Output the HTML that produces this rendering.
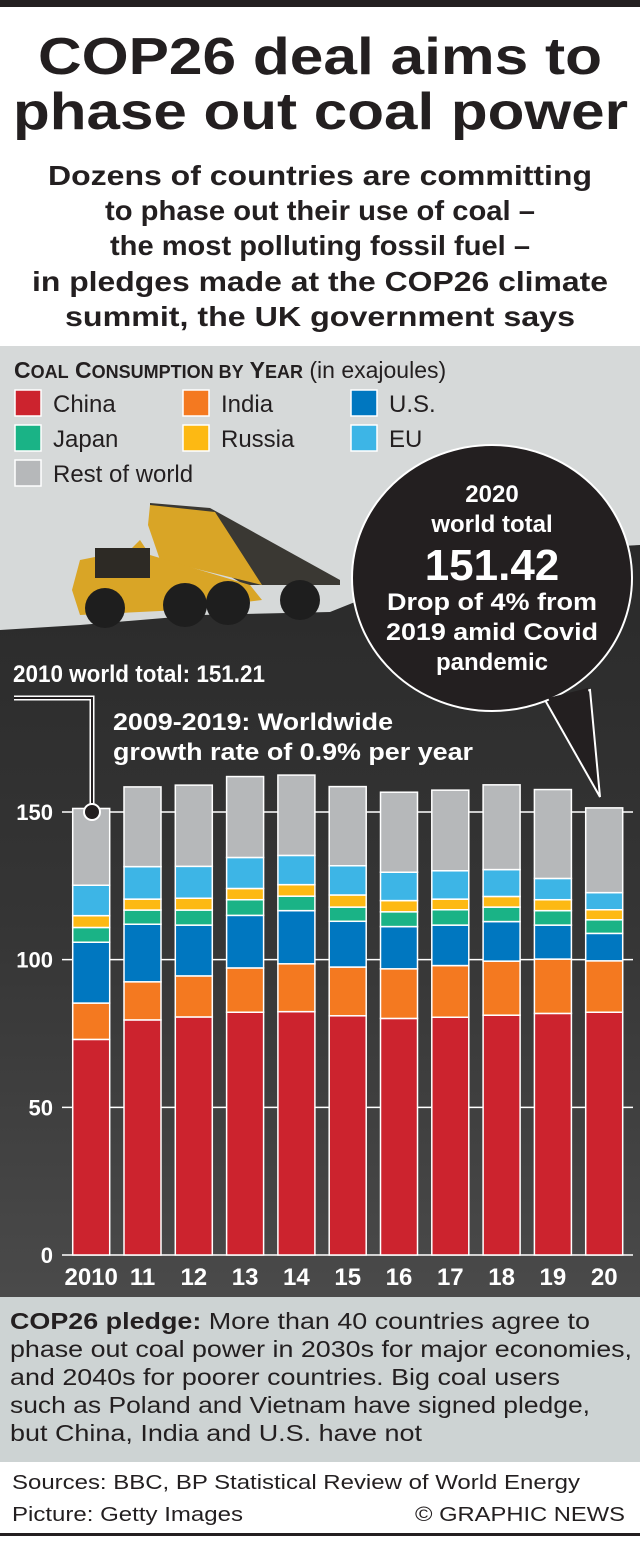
<!DOCTYPE html>
<html><head><meta charset="utf-8"><style>
html,body{margin:0;padding:0;background:#fff;}
svg{display:block;font-family:"Liberation Sans",Arial,sans-serif;}
</style></head><body>
<svg id="chart" width="640" height="1542" viewBox="0 0 640 1542" xmlns="http://www.w3.org/2000/svg">
<defs>
<linearGradient id="coal" x1="0" y1="0" x2="0" y2="1">
<stop offset="0" stop-color="#2a2a2a"/><stop offset="0.5" stop-color="#353535"/><stop offset="1" stop-color="#4a4a4a"/>
</linearGradient>
</defs>
<rect x="0" y="0" width="640" height="7" fill="#231f20"/>
<g font-weight="bold" fill="#231f20">
<text x="38" y="74" font-size="52" textLength="564" lengthAdjust="spacingAndGlyphs">COP26 deal aims to</text>
<text x="13" y="129" font-size="52" textLength="615" lengthAdjust="spacingAndGlyphs">phase out coal power</text>
</g>
<g font-weight="bold" fill="#231f20" font-size="28">
<text x="48" y="185" textLength="544" lengthAdjust="spacingAndGlyphs">Dozens of countries are committing</text>
<text x="105" y="220" textLength="430" lengthAdjust="spacingAndGlyphs">to phase out their use of coal –</text>
<text x="110" y="255" textLength="420" lengthAdjust="spacingAndGlyphs">the most polluting fossil fuel –</text>
<text x="32" y="291" textLength="576" lengthAdjust="spacingAndGlyphs">in pledges made at the COP26 climate</text>
<text x="65" y="326" textLength="510" lengthAdjust="spacingAndGlyphs">summit, the UK government says</text>
</g>
<g>
<rect x="0" y="346" width="640" height="951" fill="#d6d9d9"/>
<polygon points="0,630 80,625 200,615 330,612 360,600 420,580 520,560 580,548 640,545 640,1297 0,1297" fill="url(#coal)"/>
</g>
<g>
<polygon points="150,503 210,508 340,580 340,585 245,585 150,530" fill="#3a3833"/>
<polygon points="150,505 215,512 262,585 160,560 148,525" fill="#d9a526"/>
<polygon points="72,590 80,560 130,550 140,540 150,555 250,585 262,600 180,610 80,615" fill="#d9a526"/>
<rect x="95" y="548" width="55" height="30" fill="#2d2a25"/>
<circle cx="105" cy="608" r="20" fill="#1e1e1e"/><circle cx="185" cy="605" r="22" fill="#1e1e1e"/><circle cx="228" cy="603" r="22" fill="#1e1e1e"/><circle cx="300" cy="600" r="20" fill="#1e1e1e"/>
</g>
<g fill="#231f20">
<text x="14" y="378" font-size="23" font-weight="bold">C<tspan font-size="18">OAL</tspan> C<tspan font-size="18">ONSUMPTION BY</tspan> Y<tspan font-size="18">EAR</tspan> <tspan font-weight="normal" font-size="23">(in exajoules)</tspan></text>
<g id="legendItems"></g>
</g>
<g>
<g id="grid"></g>
<g id="bars"></g>
<g id="yticks"></g>
<g id="xticks"></g>
</g>
<g>
<text x="13" y="682" font-size="24" font-weight="bold" fill="#fff" textLength="252" lengthAdjust="spacingAndGlyphs">2010 world total: 151.21</text>
<polyline points="14,698 92,698 92,810" fill="none" stroke="#fff" stroke-width="5"/>
<polyline points="14,698 92,698 92,810" fill="none" stroke="#231f20" stroke-width="2"/>
<circle cx="92" cy="812" r="8" fill="#231f20" stroke="#fff" stroke-width="2"/>
<text x="113" y="730" font-size="24" font-weight="bold" fill="#fff" textLength="280" lengthAdjust="spacingAndGlyphs">2009-2019: Worldwide</text>
<text x="113" y="760" font-size="24" font-weight="bold" fill="#fff" textLength="360" lengthAdjust="spacingAndGlyphs">growth rate of 0.9% per year</text>
</g>
<g>
<path d="M 545 700 L 600 797 L 590 690 Z" fill="#231f20" stroke="#fff" stroke-width="2"/>
<ellipse cx="492" cy="578" rx="140" ry="133" fill="#231f20" stroke="#fff" stroke-width="2"/>
<path d="M 548 698 L 598 790 L 588 688 Z" fill="#231f20"/>
<g fill="#fff" font-weight="bold" text-anchor="middle">
<text x="492" y="502" font-size="24">2020</text>
<text x="492" y="532" font-size="24">world total</text>
<text x="492" y="580" font-size="44">151.42</text>
<text x="492" y="610" font-size="24" textLength="210" lengthAdjust="spacingAndGlyphs">Drop of 4% from</text>
<text x="492" y="640" font-size="24" textLength="212" lengthAdjust="spacingAndGlyphs">2019 amid Covid</text>
<text x="492" y="670" font-size="24">pandemic</text>
</g>
</g>
<g>
<rect x="0" y="1297" width="640" height="165" fill="#cdd3d3"/>
<g fill="#231f20" font-size="23">
<text x="10" y="1329" textLength="580" lengthAdjust="spacingAndGlyphs"><tspan font-weight="bold">COP26 pledge:</tspan> More than 40 countries agree to</text>
<text x="10" y="1357" textLength="622" lengthAdjust="spacingAndGlyphs">phase out coal power in 2030s for major economies,</text>
<text x="10" y="1385" textLength="550" lengthAdjust="spacingAndGlyphs">and 2040s for poorer countries. Big coal users</text>
<text x="10" y="1413" textLength="580" lengthAdjust="spacingAndGlyphs">such as Poland and Vietnam have signed pledge,</text>
<text x="10" y="1441" textLength="412" lengthAdjust="spacingAndGlyphs">but China, India and U.S. have not</text>
</g>
</g>
<g fill="#231f20" font-size="20">
<text x="12" y="1489" textLength="568" lengthAdjust="spacingAndGlyphs">Sources: BBC, BP Statistical Review of World Energy</text>
<text x="12" y="1521" textLength="231" lengthAdjust="spacingAndGlyphs">Picture: Getty Images</text>
<text x="415" y="1521" textLength="210" lengthAdjust="spacingAndGlyphs">© GRAPHIC NEWS</text>
<rect x="0" y="1533" width="640" height="3" fill="#231f20"/>
</g>
</svg>
<script>
const years = ["2010","11","12","13","14","15","16","17","18","19","20"];
const china  = [73.0,79.6,80.6,82.2,82.4,81.0,80.1,80.5,81.2,81.8,82.2];
const india  = [12.3,12.9,13.9,15.0,16.2,16.5,16.8,17.5,18.3,18.4,17.4];
const us     = [20.6,19.5,17.2,17.8,18.0,15.5,14.3,13.7,13.4,11.5,9.3];
const japan  = [5.0,4.8,5.1,5.3,4.9,4.8,5.0,5.2,4.9,4.9,4.6];
const russia = [4.0,3.7,4.0,3.8,3.9,4.1,3.8,3.6,3.6,3.7,3.4];
const eu     = [10.3,11.0,10.8,10.5,9.9,9.9,9.6,9.6,9.1,7.2,5.8];
const rest   = [26.0,27.0,27.5,27.4,27.2,26.8,27.1,27.3,28.7,30.1,28.7];
const yTicks = [0,50,100,150];
const seriesNames = ["China","India","U.S.","Japan","Russia","EU","Rest of world"];
const seriesColors = ["#cc232e","#f47920","#0077c0","#1ab386","#fdb913","#3db5e6","#b6b8ba"];

const NS = "http://www.w3.org/2000/svg";
const y0 = 1255, pxPerUnit = (1255-812)/150;
function yScale(v){ return y0 - v*pxPerUnit; }
function xScale(i){ return 72.7 + i*51.3; }
const barW = 37;
function mk(tag, attrs){ const e=document.createElementNS(NS,tag); for(const k in attrs) e.setAttribute(k,attrs[k]); return e; }

const grid=document.getElementById('grid');
yTicks.forEach(t=>{
  const l=mk('line',{x1:62,x2:633,y1:yScale(t),y2:yScale(t),stroke:'#fff','stroke-width':1.5});
  
  
  grid.appendChild(l);
  const tx=mk('text',{x:53,y:yScale(t)+8,'text-anchor':'end','font-size':22,'font-weight':'bold',fill:'#fff'});
  tx.textContent=t;
  
  
  document.getElementById('yticks').appendChild(tx);
});

const series=[china,india,us,japan,russia,eu,rest];
const bars=document.getElementById('bars');
years.forEach((yr,i)=>{
  let cum=0;
  series.forEach((s,k)=>{
    const v=s[i];
    const r=mk('rect',{x:xScale(i),y:yScale(cum+v),width:barW,height:v*pxPerUnit,fill:seriesColors[k],stroke:'#fff','stroke-width':1.5});
    
    
    bars.appendChild(r);
    cum+=v;
  });
  const tx=mk('text',{x:xScale(i)+barW/2,y:1285,'text-anchor':'middle','font-size':24,'font-weight':'bold',fill:'#fff'});
  tx.textContent=yr;
  
  
  document.getElementById('xticks').appendChild(tx);
});

const leg=document.getElementById('legendItems');
seriesNames.forEach((n,k)=>{
  const col=k%3, row=Math.floor(k/3);
  const x=15+col*168, y=390+row*35;
  const g=mk('g',{});
  
  
  g.appendChild(mk('rect',{x:x,y:y,width:26,height:26,fill:seriesColors[k],stroke:'#fff','stroke-width':1.5}));
  const t=mk('text',{x:x+38,y:y+22,'font-size':24,fill:'#231f20'});
  t.textContent=n;
  g.appendChild(t);
  leg.appendChild(g);
});
</script>
</body></html>
